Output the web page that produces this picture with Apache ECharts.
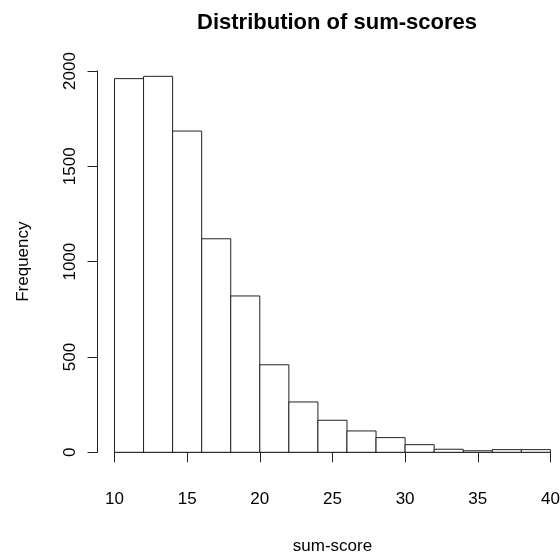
<!DOCTYPE html>
<html>
<head>
<meta charset="utf-8">
<script src="https://cdn.jsdelivr.net/npm/echarts@6/dist/echarts.min.js"></script>
<style>
  html, body { margin: 0; padding: 0; background: #fff; }
  #chart { width: 560px; height: 554px; }
</style>
</head>
<body>
<div id="chart"></div>
<script>
// histogram bins (width 2) and counts
const binStarts = [10, 12, 14, 16, 18, 20, 22, 24, 26, 28, 30, 32, 34, 36, 38];
const binWidth = 2;
const counts = [1960, 1972, 1685, 1120, 820, 459, 264, 168, 112, 77, 40, 16, 8, 14, 14];
const xTicks = [10, 15, 20, 25, 30, 35, 40];
const yTicks = [0, 500, 1000, 1500, 2000];

const font = "'Liberation Sans', Arial, sans-serif";
const ink = "#222";

const bins = binStarts.map((s, i) => [s, s + binWidth, counts[i]]);

const chart = echarts.init(document.getElementById("chart"), null, { renderer: "canvas" });

chart.setOption({
  animation: false,
  backgroundColor: "#fff",
  title: {
    text: "Distribution of sum-scores",
    left: 332,
    top: 7,
    textAlign: "center",
    textStyle: { fontFamily: font, fontSize: 22, fontWeight: "bold", color: "#000" },
  },
  grid: {
    left: 114.5,
    right: 9.6,
    top: 71,
    bottom: 101.7,
    containLabel: false,
    outerBoundsMode: "none",
  },
  xAxis: {
    type: "value",
    min: xTicks[0],
    max: xTicks[xTicks.length - 1],
    interval: 5,
    offset: 16,
    name: "sum-score",
    nameLocation: "middle",
    nameGap: 70,
    nameTextStyle: { fontFamily: font, fontSize: 17, color: "#000" },
    axisLine: { lineStyle: { color: ink, width: 1 } },
    axisTick: { length: 10, lineStyle: { color: ink } },
    axisLabel: { margin: 23, fontFamily: font, fontSize: 17, color: "#000" },
    splitLine: { show: false },
  },
  yAxis: {
    type: "value",
    min: yTicks[0],
    max: yTicks[yTicks.length - 1],
    interval: 500,
    offset: 17,
    name: "Frequency",
    nameLocation: "middle",
    nameGap: 66,
    nameTextStyle: { fontFamily: font, fontSize: 17, color: "#000" },
    axisLine: { show: true, lineStyle: { color: ink, width: 1 } },
    axisTick: { show: true, length: 10, lineStyle: { color: ink } },
    axisLabel: {
      rotate: 90,
      margin: 19,
      fontFamily: font,
      fontSize: 17,
      color: "#000",
      formatter: (v) => String(v),
    },
    splitLine: { show: false },
  },
  series: [
    {
      type: "custom",
      data: bins,
      encode: { x: [0, 1], y: 2 },
      renderItem: (params, api) => {
        const p0 = api.coord([api.value(0), 0]);
        const p1 = api.coord([api.value(1), api.value(2)]);
        return {
          type: "rect",
          shape: { x: p0[0], y: p1[1], width: p1[0] - p0[0], height: p0[1] - p1[1] },
          style: { fill: "#fff", stroke: ink, lineWidth: 1 },
        };
      },
    },
  ],
});
</script>
</body>
</html>
